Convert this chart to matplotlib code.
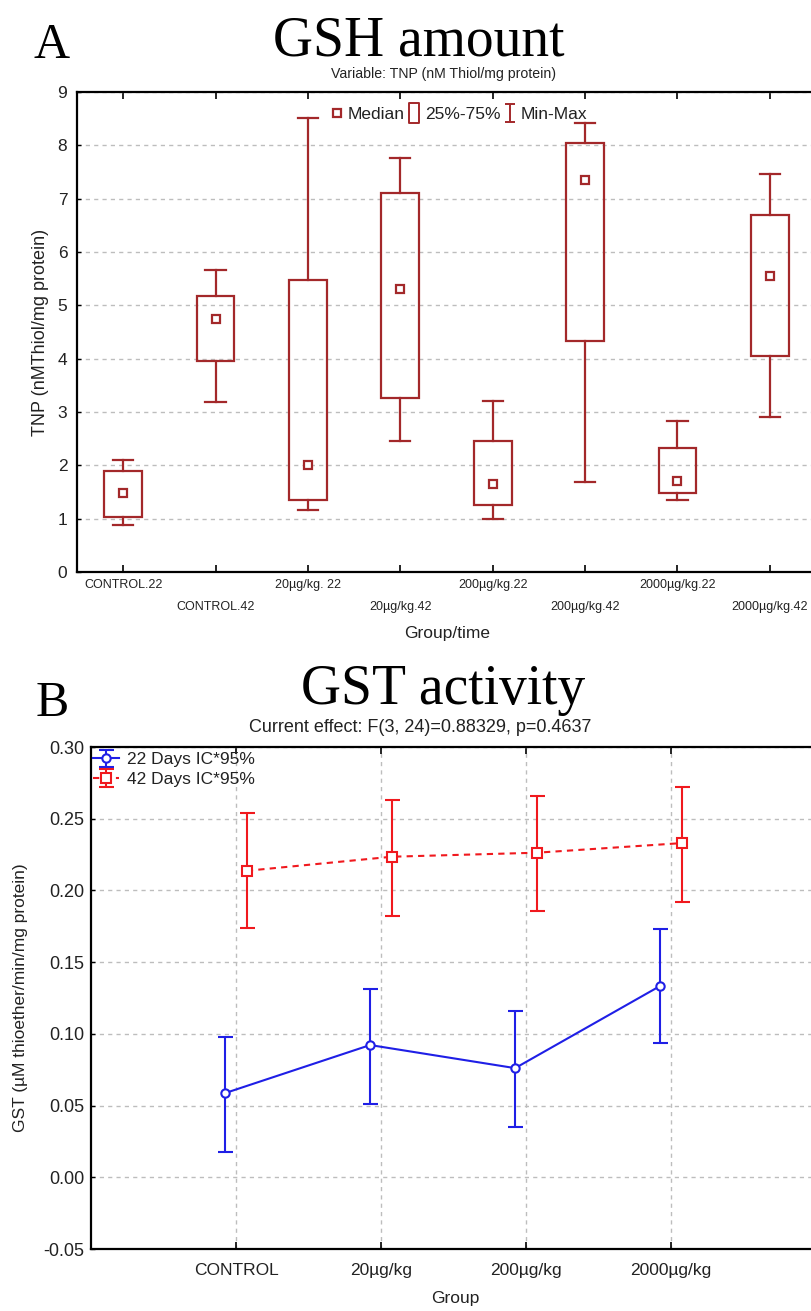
import matplotlib
matplotlib.use("Agg")
import matplotlib.pyplot as plt
import numpy as np
from matplotlib.lines import Line2D
from matplotlib.path import Path

plt.rcParams['font.family'] = ['Liberation Sans', 'DejaVu Sans']
SERIF = ['Liberation Serif', 'DejaVu Serif']

# ---- Panel A data: GSH (TNP) box summary per group/time ----
groups_a = ["CONTROL.22", "CONTROL.42", "20µg/kg. 22", "20µg/kg.42",
            "200µg/kg.22", "200µg/kg.42", "2000µg/kg.22", "2000µg/kg.42"]
tnp_min = [0.88, 3.18, 1.16, 2.46, 0.99, 1.68, 1.35, 2.91]
tnp_q25 = [1.04, 3.95, 1.35, 3.27, 1.26, 4.33, 1.48, 4.05]
tnp_median = [1.49, 4.75, 2.00, 5.30, 1.65, 7.35, 1.71, 5.55]
tnp_q75 = [1.90, 5.18, 5.47, 7.11, 2.46, 8.05, 2.33, 6.70]
tnp_max = [2.10, 5.66, 8.51, 7.76, 3.20, 8.41, 2.84, 7.47]

# ---- Panel B data: GST activity means with 95% CI ----
groups_b = ["CONTROL", "20µg/kg", "200µg/kg", "2000µg/kg"]
gst22_mean = [0.0587, 0.0922, 0.0761, 0.1334]
gst22_low = [0.0175, 0.0510, 0.0349, 0.0936]
gst22_high = [0.0978, 0.1310, 0.1160, 0.1733]
gst42_mean = [0.2137, 0.2235, 0.2263, 0.2330]
gst42_low = [0.1740, 0.1820, 0.1857, 0.1920]
gst42_high = [0.2540, 0.2633, 0.2660, 0.2720]

W, H = 811, 1311
fig = plt.figure(figsize=(W / 100, H / 100), dpi=100)


def fx(px):
    return px / W


def fy(py):
    return 1 - py / H


BOX_RED = '#A3282A'
GRID = '#BDBDBD'
TXT = '#222222'

# ================= Panel A =================
axA = fig.add_axes([fx(77), fy(572), (816 - 77) / W, (572 - 92) / H])
xa = np.arange(len(groups_a))
bw = 0.41
cw = 0.22
for i in xa:
    axA.add_patch(plt.Rectangle((i - bw / 2, tnp_q25[i]), bw, tnp_q75[i] - tnp_q25[i],
                                facecolor='none', edgecolor=BOX_RED, lw=1.6, zorder=3))
    axA.plot([i, i], [tnp_q75[i], tnp_max[i]], color=BOX_RED, lw=1.6, zorder=3)
    axA.plot([i, i], [tnp_min[i], tnp_q25[i]], color=BOX_RED, lw=1.6, zorder=3)
    axA.plot([i - cw / 2, i + cw / 2], [tnp_max[i], tnp_max[i]], color=BOX_RED, lw=1.6, zorder=3)
    axA.plot([i - cw / 2, i + cw / 2], [tnp_min[i], tnp_min[i]], color=BOX_RED, lw=1.6, zorder=3)
axA.plot(xa, tnp_median, linestyle='none', marker='s', ms=5.5, mfc='white',
         mec=BOX_RED, mew=1.6, zorder=4)

axA.set_xlim(-0.5, len(groups_a) - 0.5)
axA.set_ylim(0, 9)
axA.set_yticks(range(0, 10))
axA.set_xticks(xa)
axA.set_xticklabels(groups_a, fontsize=9, color=TXT)
for k, t in enumerate(axA.xaxis.get_major_ticks()):
    t.set_pad(5 if k % 2 == 0 else 21)
axA.tick_params(axis='x', direction='in', length=5, width=1.2, top=True)
axA.tick_params(axis='y', direction='in', length=3, width=1.0, labelsize=12.5,
                labelcolor=TXT, pad=7)
axA.yaxis.grid(True, linestyle=(0, (3, 3)), color=GRID, lw=1.0)
for s in axA.spines.values():
    s.set_linewidth(1.6)
axA.set_ylabel("TNP (nMThiol/mg protein)", fontsize=13, color=TXT, labelpad=6)
axA.set_xlabel("Group/time", fontsize=12.5, color=TXT)
axA.xaxis.set_label_coords((447 - 77) / 739, (572 - 626) / 480)

# legend for the box elements
whisk = Path([(-0.5, -1), (0.5, -1), (0, -1), (0, 1), (-0.5, 1), (0.5, 1)],
             [Path.MOVETO, Path.LINETO, Path.MOVETO, Path.LINETO, Path.MOVETO, Path.LINETO])
tallbox = Path([(-0.45, -1), (0.45, -1), (0.45, 1), (-0.45, 1), (-0.45, -1)],
               [Path.MOVETO, Path.LINETO, Path.LINETO, Path.LINETO, Path.CLOSEPOLY])
hA = [Line2D([], [], ls='none', marker='s', ms=6, mfc='white', mec=BOX_RED, mew=1.6),
      Line2D([], [], ls='none', marker=tallbox, ms=15, mfc='none', mec=BOX_RED, mew=1.4),
      Line2D([], [], ls='none', marker=whisk, ms=13, mfc='none', mec=BOX_RED, mew=1.4)]
legA = axA.legend(hA, ["Median", "25%-75%", "Min-Max"], loc='upper center',
                  bbox_to_anchor=((459 - 77) / 739, (572 - 100) / 480), ncol=3,
                  frameon=False, fontsize=12.5, handlelength=0.7, handletextpad=0.25,
                  columnspacing=0.2, borderaxespad=0)
for t in legA.get_texts():
    t.set_color(TXT)

fig.text(fx(52), fy(46), "A", family=SERIF, fontsize=36, ha='center', va='center')
fig.text(fx(419), fy(42), "GSH amount", family=SERIF, fontsize=40, ha='center', va='center')
fig.text(fx(443), fy(74), "Variable: TNP (nM Thiol/mg protein)",
         fontsize=10.2, ha='center', va='center', color=TXT)

# ================= Panel B =================
axB = fig.add_axes([fx(91), fy(1249), (816 - 91) / W, (1249 - 747) / H])
xb = np.arange(len(groups_b))
off = 0.075
m22 = np.array(gst22_mean)
m42 = np.array(gst42_mean)
e22 = [m22 - np.array(gst22_low), np.array(gst22_high) - m22]
e42 = [m42 - np.array(gst42_low), np.array(gst42_high) - m42]
BLUE = '#1F1FE6'
RED = '#F0191E'
axB.errorbar(xb - off, m22, yerr=e22, color=BLUE, lw=1.5, elinewidth=1.5, capsize=5.4,
             capthick=1.5, marker='o', ms=6, mfc='white', mec=BLUE, mew=1.5,
             label="22 Days IC*95%", zorder=4)
axB.errorbar(xb + off, m42, yerr=e42, color=RED, lw=1.5, elinewidth=1.5, capsize=5.4,
             capthick=1.5, marker='s', ms=6.5, mfc='white', mec=RED, mew=1.5,
             ls=(0, (3, 2.5)), label="42 Days IC*95%", zorder=4)
axB.set_xlim(-1, len(groups_b))
axB.set_ylim(-0.05, 0.30)
yt = np.arange(-0.05, 0.301, 0.05)
axB.set_yticks(yt)
axB.set_yticklabels([f"{v:.2f}" for v in yt])
axB.set_xticks(xb)
axB.set_xticklabels(groups_b, fontsize=12.5, color=TXT)
axB.tick_params(axis='x', direction='in', length=5, width=1.2, top=True, pad=10)
axB.tick_params(axis='y', direction='in', length=3, width=1.0, labelsize=13,
                labelcolor=TXT, pad=5)
axB.grid(True, linestyle=(0, (3, 3)), color=GRID, lw=1.0)
for s in axB.spines.values():
    s.set_linewidth(1.6)
axB.set_ylabel("GST (µM thioether/min/mg protein)", fontsize=12.5, color=TXT, labelpad=11)
axB.set_xlabel("Group", fontsize=12.5, color=TXT)
axB.xaxis.set_label_coords((455 - 91) / 725, (1249 - 1291) / 502)
legB = axB.legend(loc='upper left', bbox_to_anchor=(0, 0.993), frameon=False, fontsize=12.5,
                  handlelength=1.5, handletextpad=0.45, borderaxespad=0, borderpad=0.1,
                  labelspacing=0.25)
for t in legB.get_texts():
    t.set_color(TXT)

fig.text(fx(52), fy(704), "B", family=SERIF, fontsize=36, ha='center', va='center')
fig.text(fx(443), fy(690), "GST activity", family=SERIF, fontsize=40, ha='center', va='center')
fig.text(fx(420), fy(728), "Current effect: F(3, 24)=0.88329, p=0.4637", fontsize=13,
         ha='center', va='center', color=TXT)

fig.savefig("out.png", dpi=100)
